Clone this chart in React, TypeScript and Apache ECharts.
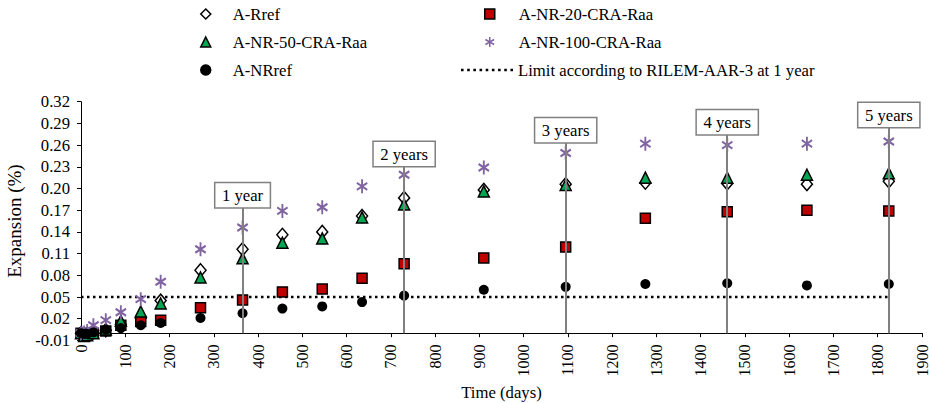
import React, { useEffect, useRef } from "react";
import * as echarts from "echarts";

// ---- data ----
const days = [0, 7, 14, 28, 56, 90, 135, 180, 270, 365, 455, 545, 635, 730, 910, 1095, 1275, 1460, 1640, 1825];
const aRref = [0, -0.002, -0.001, 0.001, 0.004, 0.012, 0.021, 0.045, 0.087, 0.116, 0.136, 0.14, 0.162, 0.187, 0.198, 0.206, 0.208, 0.207, 0.206, 0.21];
const aNR20 = [0, -0.002, -0.002, 0.0, 0.003, 0.011, 0.016, 0.018, 0.035, 0.046, 0.057, 0.061, 0.076, 0.096, 0.104, 0.119, 0.159, 0.168, 0.17, 0.169];
const aNR50 = [0, -0.004, -0.003, 0.0, 0.005, 0.017, 0.03, 0.041, 0.077, 0.1035, 0.125, 0.131, 0.16, 0.178, 0.196, 0.205, 0.215, 0.215, 0.219, 0.221];
const aNR100 = [0, 0.001, 0.003, 0.011, 0.018, 0.029, 0.047, 0.071, 0.116, 0.146, 0.169, 0.174, 0.203, 0.219, 0.229, 0.249, 0.262, 0.26, 0.262, 0.265];
const aNRref = [0, -0.001, -0.001, 0.001, 0.005, 0.007, 0.011, 0.014, 0.021, 0.0275, 0.034, 0.037, 0.043, 0.052, 0.06, 0.064, 0.068, 0.069, 0.066, 0.068];

const limitDays = [0, 1825];
const limitValue = 0.05;

const yearDays = [365, 730, 1095, 1460, 1825];
const yearTops = [0.174, 0.231, 0.264, 0.275, 0.285];
const yearLabels = ["1 year", "2 years", "3 years", "4 years", "5 years"];

const yTicks = [-0.01, 0.02, 0.05, 0.08, 0.11, 0.14, 0.17, 0.2, 0.23, 0.26, 0.29, 0.32];
const xMin = 0;
const xMax = 1900;
const xStep = 100;

const names = {
  rref: "A-Rref",
  nr20: "A-NR-20-CRA-Raa",
  nr50: "A-NR-50-CRA-Raa",
  nr100: "A-NR-100-CRA-Raa",
  nrref: "A-NRref",
  limit: "Limit according to RILEM-AAR-3 at 1 year",
};

const FONT = "Liberation Serif, Times New Roman, serif";
const FS = 16.7;
const STAR = "path://M0,-6L0,6M-5.2,-3L5.2,3M-5.2,3L5.2,-3";

// dotted legend icon (9 small squares)
const DOTS =
  "path://" +
  Array.from({ length: 9 }, (_, i) => `M${i * 6},0h2.5v2.5h-2.5z`).join("");

const pair = (vals: number[]) => days.map((d, i) => [d, vals[i]]);

export default function App() {
  const ref = useRef<HTMLDivElement>(null);
  useEffect(() => {
    if (!ref.current) return;
    const chart = echarts.init(ref.current, null, { renderer: "svg" });
    const textStyle = { color: "#000", fontFamily: FONT, fontSize: FS };
    const axisLineStyle = { color: "#000", width: 1 };
    const legendBase = {
      orient: "vertical",
      top: 5.5,
      padding: 0,
      itemGap: 11,
      itemHeight: 10,
      symbolKeepAspect: true,
      selectedMode: false,
      itemStyle: { borderWidth: 1.5 },
    };
    const option: any = {
      animation: false,
      backgroundColor: "#fff",
      textStyle: { fontFamily: FONT },
      grid: { left: 81, right: 8, top: 101.7, bottom: 62.6, containLabel: false, outerBoundsMode: "none" },
      legend: [
        {
          ...legendBase,
          data: [names.rref, names.nr50, names.nrref],
          left: 200,
          itemWidth: 10,
          textStyle: { ...textStyle, padding: [0, 0, 0, 17] },
        },
        {
          ...legendBase,
          data: [names.nr20, names.nr100],
          left: 484,
          itemWidth: 10,
          textStyle: { ...textStyle, padding: [0, 0, 0, 19] },
        },
        {
          ...legendBase,
          data: [{ name: names.limit, icon: DOTS }],
          left: 461,
          top: 61.5,
          itemWidth: 52,
          itemStyle: { borderWidth: 0, color: "#000" },
          textStyle: { ...textStyle },
        },
      ],
      xAxis: {
        type: "value",
        min: xMin,
        max: xMax,
        interval: xStep,
        name: "Time (days)",
        nameLocation: "middle",
        nameGap: 33,
        nameTextStyle: { ...textStyle },
        axisLine: { show: true, onZero: true, lineStyle: axisLineStyle },
        axisTick: { show: true, inside: false, length: 4, lineStyle: axisLineStyle },
        axisLabel: {
          rotate: 90,
          margin: 4,
          ...textStyle,
          fontSize: 16,
          showMinLabel: true,
          showMaxLabel: true,
          formatter: (v: number) => String(v),
        },
        splitLine: { show: false },
      },
      yAxis: {
        type: "value",
        min: yTicks[0],
        max: yTicks[yTicks.length - 1],
        splitNumber: 11,
        name: "Expansion (%)",
        nameLocation: "middle",
        nameGap: 56,
        nameTextStyle: { ...textStyle, fontSize: 19 },
        axisLine: { show: true, onZero: false, lineStyle: axisLineStyle },
        axisTick: { show: true, inside: false, length: 4, lineStyle: axisLineStyle, customValues: yTicks },
        axisLabel: {
          margin: 11,
          ...textStyle,
          customValues: yTicks,
          formatter: (v: number) => v.toFixed(2),
        },
        splitLine: { show: false },
      },
      series: [
        {
          name: "years",
          type: "line",
          data: [],
          silent: true,
          z: 1,
          markLine: {
            silent: true,
            symbol: ["none", "none"],
            animation: false,
            lineStyle: { color: "#808080", width: 2, type: "solid" },
            label: {
              show: true,
              position: "end",
              distance: 0,
              formatter: "{b}",
              color: "#000",
              fontFamily: FONT,
              fontSize: FS,
              backgroundColor: "#fff",
              borderColor: "#808080",
              borderWidth: 1.5,
              padding: [4, 6.5, 3, 6.5],
            },
            emphasis: { disabled: true },
            data: yearDays.map((d, i) => [
              { name: yearLabels[i], coord: [d, 0] },
              { coord: [d, yearTops[i]] },
            ]),
          },
        },
        {
          name: names.limit,
          type: "line",
          data: limitDays.map((d) => [d, limitValue]),
          symbol: "none",
          showSymbol: false,
          silent: true,
          z: 2,
          lineStyle: { color: "#000", width: 2.5, type: [2.5, 3.5] },
          itemStyle: { color: "#000" },
        },
        {
          name: names.rref,
          type: "scatter",
          data: pair(aRref),
          symbol: "diamond",
          symbolSize: [11, 13],
          symbolKeepAspect: true,
          silent: true,
          z: 3,
          itemStyle: { color: "#fff", borderColor: "#000", borderWidth: 1.5, opacity: 1 },
        },
        {
          name: names.nr20,
          type: "scatter",
          data: pair(aNR20),
          symbol: "rect",
          symbolSize: 10,
          symbolKeepAspect: true,
          silent: true,
          z: 3,
          itemStyle: { color: "#C00000", borderColor: "#000", borderWidth: 1.5, opacity: 1 },
        },
        {
          name: names.nr50,
          type: "scatter",
          data: pair(aNR50),
          symbol: "triangle",
          symbolSize: [11, 11],
          symbolKeepAspect: true,
          silent: true,
          z: 3,
          itemStyle: { color: "#00A651", borderColor: "#000", borderWidth: 1.5, opacity: 1 },
        },
        {
          name: names.nr100,
          type: "scatter",
          data: pair(aNR100),
          symbol: STAR,
          symbolSize: [12, 14],
          symbolKeepAspect: true,
          silent: true,
          z: 3,
          itemStyle: { color: "#8064A2", borderColor: "#8064A2", borderWidth: 2, opacity: 1 },
        },
        {
          name: names.nrref,
          type: "scatter",
          data: pair(aNRref),
          symbol: "circle",
          symbolSize: 10,
          silent: true,
          z: 3,
          itemStyle: { color: "#000", borderColor: "#000", borderWidth: 0, opacity: 1 },
        },
      ],
    };
    chart.setOption(option);
    return () => chart.dispose();
  }, []);
  return (
    <div
      ref={ref}
      style={{ position: "absolute", left: 0, top: 0, width: 930, height: 403 }}
    />
  );
}
